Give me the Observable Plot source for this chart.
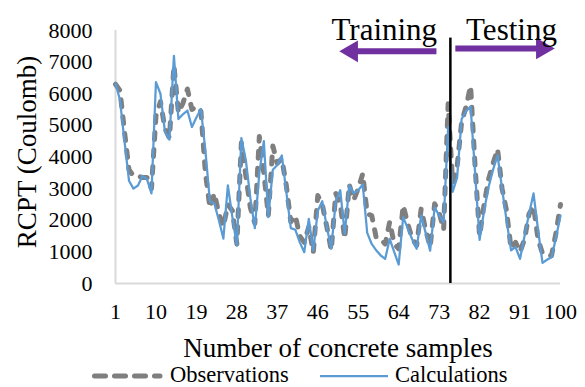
<!DOCTYPE html>
<html>
<head>
<meta charset="utf-8">
<script src="https://cdn.jsdelivr.net/npm/d3@7"></script>
<script src="https://cdn.jsdelivr.net/npm/@observablehq/plot@0.6"></script>
<style>
  html, body { margin: 0; padding: 0; background: #fff; }
  #chart { width: 585px; height: 387px; }
</style>
</head>
<body>
<div id="chart"></div>
<script>
// RCPT values (Coulomb) for the 100 concrete samples, in sample order
const observations = [
  6300, 6100, 4800, 3600, 3400, 3400, 3350, 3350, 3000, 5300,
  5750, 4900, 4600, 6900, 5400, 5700, 6150, 5500, 5600, 5450,
  3500, 2400, 2850, 2200, 1800, 2500, 2300, 1250, 4450, 3400,
  2400, 1900, 4650, 3500, 2150, 4350, 3800, 3950, 3100, 1950,
  2150, 1500, 1300, 1800, 980, 2780, 2500, 1800, 1050, 2850,
  2500, 1420, 3130, 2640, 3000, 3470, 2200, 2150, 1450, 1400,
  1250, 1950, 1250, 1100, 2470, 1900, 1420, 1200, 2360, 1700,
  1150, 2520, 2250, 1700, 5680, 3200, 3700, 5100, 5600, 6250,
  3700, 1500, 2500, 3300, 3800, 4250, 3000, 2300, 1100, 1300,
  1000, 1400, 2200, 2450, 1400, 950, 900, 880, 1600, 2500
];
const calculations = [
  6330, 5800, 4500, 3250, 3000, 3100, 3400, 3300, 2850, 6370,
  6000, 4800, 4550, 7200, 5200, 5350, 5470, 4950, 5250, 5520,
  4200, 2600, 2520, 2000, 1420, 3100, 2100, 1200, 4600, 3900,
  2700, 1750, 3500, 4500, 2100, 3600, 3750, 4050, 2900, 1750,
  1700, 1300, 990, 2045, 1043, 2300, 2600, 1800, 1100, 2600,
  2950, 1570, 3100, 2850, 2950, 3130, 1600, 1250, 1050, 885,
  780, 1410, 1000, 600, 2100, 1750, 1400, 1100, 2150, 1600,
  1040, 2410, 2150, 1940, 4950, 2900, 3350, 5200, 5450, 5600,
  3500, 1380, 2300, 3050, 3600, 4050, 3000, 2000, 1050, 1150,
  780, 1500, 2200, 2850, 1700, 650, 750, 830, 1450, 2150
];

const xTicks = [1, 10, 19, 28, 37, 46, 55, 64, 73, 82, 91, 100];
const yTicks = [0, 1000, 2000, 3000, 4000, 5000, 6000, 7000, 8000];

// Boundary between the training and the testing samples
const split = [{sample: 75.5, low: 0, high: 7760}];

// Phase annotations: label, arrow tail/tip (sample units), arrow height and label position (RCPT units)
const phases = [
  {label: "Training", tail: 72.4, tip: 50.8, arrowY: 7340, labelX: 60.8, labelY: 7715},
  {label: "Testing",  tail: 76.6, tip: 98.7, arrowY: 7430, labelX: 89.1, labelY: 7715}
];

const xTitle = "Number of concrete samples";
const yTitle = "RCPT (Coulomb)";
const seriesNames = ["Observations", "Calculations"];

const serif = "'Liberation Serif', 'Times New Roman', Times, serif";
const grey = "#7f7f7f";
const blue = "#5b9bd5";
const purple = "#7030a0";

const rows = observations.map((v, i) => ({sample: i + 1, observed: v, calculated: calculations[i]}));

// arrowhead: triangle centred a little behind the tip so the tip lands on it
const headOffset = 2.75;
const headX = d => d.tip < d.tail ? d.tip + headOffset : d.tip - headOffset;

const chart = Plot.plot({
  width: 585,
  height: 387,
  marginLeft: 115,
  marginRight: 25,
  marginTop: 30,
  marginBottom: 104,
  style: {fontFamily: serif, background: "#fff", color: "#000", overflow: "visible"},
  x: {domain: [1, 100]},
  y: {domain: [0, 8000]},
  marks: [
    Plot.ruleY([0], {stroke: "#d9d9d9", strokeWidth: 2}),
    Plot.ruleX([1], {stroke: "#d9d9d9", strokeWidth: 2}),
    Plot.axisY({ticks: yTicks, tickSize: 0, tickPadding: 23, tickFormat: "d", fontSize: 22, label: null}),
    Plot.axisX({ticks: xTicks, tickSize: 0, tickPadding: 20, tickFormat: "d", fontSize: 22, label: null}),
    Plot.line(rows, {
      x: "sample", y: "observed", stroke: grey, strokeWidth: 5,
      strokeDasharray: "7,10", strokeLinecap: "round", strokeLinejoin: "round"
    }),
    Plot.line(rows, {
      x: "sample", y: "calculated", stroke: blue, strokeWidth: 2.25, strokeLinejoin: "round"
    }),
    Plot.ruleX(split, {x: "sample", y1: "low", y2: "high", stroke: "#000", strokeWidth: 2.5}),
    Plot.link(phases, {x1: "tail", x2: headX, y1: "arrowY", y2: "arrowY", stroke: purple, strokeWidth: 6}),
    Plot.dot(phases, {
      x: headX, y: "arrowY", symbol: "triangle", r: 8, fill: purple, stroke: null,
      rotate: d => d.tip < d.tail ? -90 : 90
    }),
    Plot.text(phases, {x: "labelX", y: "labelY", text: "label", fontSize: 31, lineAnchor: "bottom", fill: "#000"}),
    Plot.text([yTitle], {
      text: d => d, frameAnchor: "left", textAnchor: "middle", rotate: -90,
      dx: -80, dy: -5, lineAnchor: "bottom", fontSize: 27
    }),
    Plot.text([xTitle], {text: d => d, frameAnchor: "bottom", textAnchor: "middle", dy: 73, lineAnchor: "bottom", fontSize: 27})
  ]
});

// Legend below the axis title
const legend = d3.select(chart).append("g")
  .attr("font-family", serif)
  .attr("font-size", 22.5)
  .attr("text-anchor", "start")
  .attr("fill", "#000");
legend.append("line")
  .attr("x1", 94.5).attr("x2", 160).attr("y1", 376).attr("y2", 376)
  .attr("stroke", grey).attr("stroke-width", 5)
  .attr("stroke-dasharray", "11,9").attr("stroke-linecap", "round");
legend.append("text").attr("x", 170).attr("y", 382).attr("text-anchor", "start").text(seriesNames[0]);
legend.append("line")
  .attr("x1", 320).attr("x2", 388).attr("y1", 376).attr("y2", 376)
  .attr("stroke", blue).attr("stroke-width", 2.25);
legend.append("text").attr("x", 395).attr("y", 382).attr("text-anchor", "start").text(seriesNames[1]);

document.getElementById("chart").appendChild(chart);
</script>
</body>
</html>
